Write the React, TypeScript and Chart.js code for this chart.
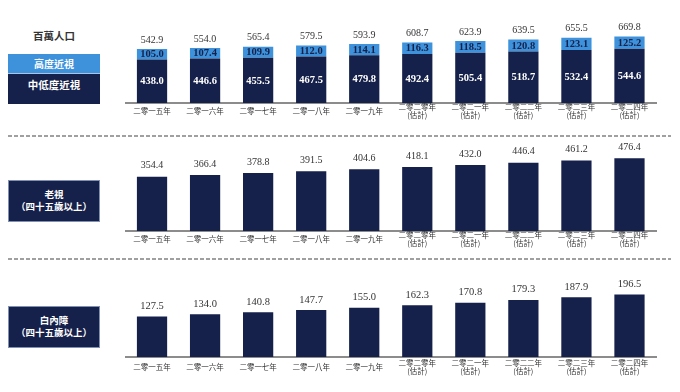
import React, { useEffect, useRef } from "react";
import { Chart, registerables } from "chart.js";

Chart.register(...registerables);

const years: (string | string[])[] = [
  "二零一五年",
  "二零一六年",
  "二零一七年",
  "二零一八年",
  "二零一九年",
  ["二零二零年", "(估計)"],
  ["二零二一年", "(估計)"],
  ["二零二二年", "(估計)"],
  ["二零二三年", "(估計)"],
  ["二零二四年", "(估計)"],
];

const lowMyopia = [438.0, 446.6, 455.5, 467.5, 479.8, 492.4, 505.4, 518.7, 532.4, 544.6];
const highMyopia = [105.0, 107.4, 109.9, 112.0, 114.1, 116.3, 118.5, 120.8, 123.1, 125.2];
const myopiaTotal = [542.9, 554.0, 565.4, 579.5, 593.9, 608.7, 623.9, 639.5, 655.5, 669.8];
const presbyopia = [354.4, 366.4, 378.8, 391.5, 404.6, 418.1, 432.0, 446.4, 461.2, 476.4];
const cataract = [127.5, 134.0, 140.8, 147.7, 155.0, 162.3, 170.8, 179.3, 187.9, 196.5];

const NAVY = "#15214a";
const LIGHT = "#3d92db";
const NUM_FONT = "'Liberation Serif', 'Times New Roman', serif";
const CJK_FONT = "'Noto Sans CJK TC', 'Noto Sans CJK SC', sans-serif";

type PanelCfg = {
  datasets: any[];
  max: number;
  padTop: number;
  padBottom: number;
  tickPad: number;
  totals: number[];
  totalGap: number;
  totalSize: number;
  inner: boolean;
};

function makeChart(canvas: HTMLCanvasElement, cfg: PanelCfg) {
  const labelPlugin = {
    id: "valueLabels",
    afterDatasetsDraw(chart: any) {
      const ctx = chart.ctx;
      ctx.save();
      ctx.textAlign = "center";
      const nd = chart.data.datasets.length;
      if (cfg.inner) {
        chart.data.datasets.forEach((ds: any, di: number) => {
          const meta = chart.getDatasetMeta(di);
          meta.data.forEach((el: any, i: number) => {
            const mid = (el.y + el.base) / 2;
            ctx.fillStyle = di === 0 ? "#ffffff" : "#15214a";
            ctx.font = `bold 10.5px ${NUM_FONT}`;
            ctx.textBaseline = "middle";
            ctx.fillText(ds.data[i].toFixed(1), el.x, mid + 0.5);
          });
        });
      }
      const topMeta = chart.getDatasetMeta(nd - 1);
      ctx.fillStyle = "#333333";
      ctx.font = `${cfg.totalSize}px ${NUM_FONT}`;
      ctx.textBaseline = "bottom";
      topMeta.data.forEach((el: any, i: number) => {
        ctx.fillText(cfg.totals[i].toFixed(1), el.x, el.y - cfg.totalGap);
      });
      ctx.restore();
    },
  };

  return new Chart(canvas, {
    type: "bar",
    data: { labels: years as any, datasets: cfg.datasets },
    options: {
      animation: false,
      responsive: false,
      maintainAspectRatio: false,
      layout: { padding: { left: 15.5, right: 16, top: cfg.padTop, bottom: cfg.padBottom } },
      plugins: { legend: { display: false }, tooltip: { enabled: false } },
      scales: {
        x: {
          stacked: true,
          offset: true,
          grid: { display: false, drawTicks: false },
          border: { display: true, color: "#8c8c8c", width: 2 },
          ticks: {
            color: "#333333",
            font: { family: CJK_FONT, size: 7.5, lineHeight: 1.15 },
            padding: cfg.tickPad,
            crossAlign: "center",
            maxRotation: 0,
            autoSkip: false,
          },
          afterFit: (axis: any) => {
            axis.height = 24;
          },
        },
        y: { display: false, stacked: true, min: 0, max: cfg.max },
      },
    } as any,
    plugins: [labelPlugin],
  });
}

export default function App() {
  const c1 = useRef<HTMLCanvasElement>(null);
  const c2 = useRef<HTMLCanvasElement>(null);
  const c3 = useRef<HTMLCanvasElement>(null);

  useEffect(() => {
    document.body.style.margin = "0";
    const bar = { barPercentage: 0.57, categoryPercentage: 1, borderWidth: 0 };
    const ch1 = makeChart(c1.current!, {
      datasets: [
        { label: "中低度近視", data: lowMyopia, backgroundColor: NAVY, ...bar },
        { label: "高度近視", data: highMyopia, backgroundColor: LIGHT, ...bar },
      ],
      max: 835,
      padTop: 20,
      padBottom: 8,
      tickPad: 4,
      totals: myopiaTotal,
      totalGap: 4,
      totalSize: 10,
      inner: true,
    });
    const ch2 = makeChart(c2.current!, {
      datasets: [{ label: "老視", data: presbyopia, backgroundColor: NAVY, ...bar }],
      max: 556,
      padTop: 10,
      padBottom: 1,
      tickPad: 4,
      totals: presbyopia,
      totalGap: 6,
      totalSize: 10,
      inner: false,
    });
    const ch3 = makeChart(c3.current!, {
      datasets: [{ label: "白內障", data: cataract, backgroundColor: NAVY, ...bar }],
      max: 242,
      padTop: 20,
      padBottom: 11,
      tickPad: 6,
      totals: cataract,
      totalGap: 5,
      totalSize: 10.5,
      inner: false,
    });
    return () => {
      ch1.destroy();
      ch2.destroy();
      ch3.destroy();
    };
  }, []);

  const boxText: React.CSSProperties = {
    color: "#ffffff",
    fontFamily: CJK_FONT,
    fontWeight: 700,
    textAlign: "center",
  };
  const dash: React.CSSProperties = {
    position: "absolute",
    left: 8,
    width: 663,
    height: 2,
    backgroundImage: "repeating-linear-gradient(90deg, #a0a0a0 0 4px, transparent 4px 6px)",
  };

  return (
    <div style={{ position: "fixed", left: 0, top: 0, width: 680, height: 392, background: "#fff", overflow: "hidden" }}>
      <div style={{ position: "absolute", left: 8, top: 29, width: 92, textAlign: "center", fontFamily: CJK_FONT, fontWeight: 700, fontSize: 10.5, color: "#333", lineHeight: "14px" }}>
        百萬人口
      </div>
      <div style={{ position: "absolute", left: 8, top: 54, width: 92, height: 19, background: LIGHT, ...boxText, fontSize: 10, lineHeight: "19px" }}>
        高度近視
      </div>
      <div style={{ position: "absolute", left: 8, top: 73, width: 92, height: 1, background: "#a9c4e4" }} />
      <div style={{ position: "absolute", left: 8, top: 74, width: 92, height: 30, background: NAVY, ...boxText, fontSize: 10.5, lineHeight: "22px" }}>
        中低度近視
      </div>
      <div style={{ ...dash, top: 135 }} />
      <div style={{ position: "absolute", left: 8, top: 180, width: 90, height: 33, background: NAVY, border: "1px solid #8090b0", ...boxText, fontSize: 9.5, lineHeight: "12px", paddingTop: 7 }}>
        <div>老視</div>
        <div>（四十五歲以上）</div>
      </div>
      <div style={{ ...dash, top: 258 }} />
      <div style={{ position: "absolute", left: 8, top: 306, width: 90, height: 33, background: NAVY, border: "1px solid #8090b0", ...boxText, fontSize: 9.5, lineHeight: "12px", paddingTop: 7 }}>
        <div>白內障</div>
        <div>（四十五歲以上）</div>
      </div>

      <canvas ref={c1} width={562} height={135} style={{ position: "absolute", left: 110, top: 0, width: 562, height: 135 }} />
      <canvas ref={c2} width={562} height={120} style={{ position: "absolute", left: 110, top: 136, width: 562, height: 120 }} />
      <canvas ref={c3} width={562} height={132} style={{ position: "absolute", left: 110, top: 260, width: 562, height: 132 }} />
    </div>
  );
}
